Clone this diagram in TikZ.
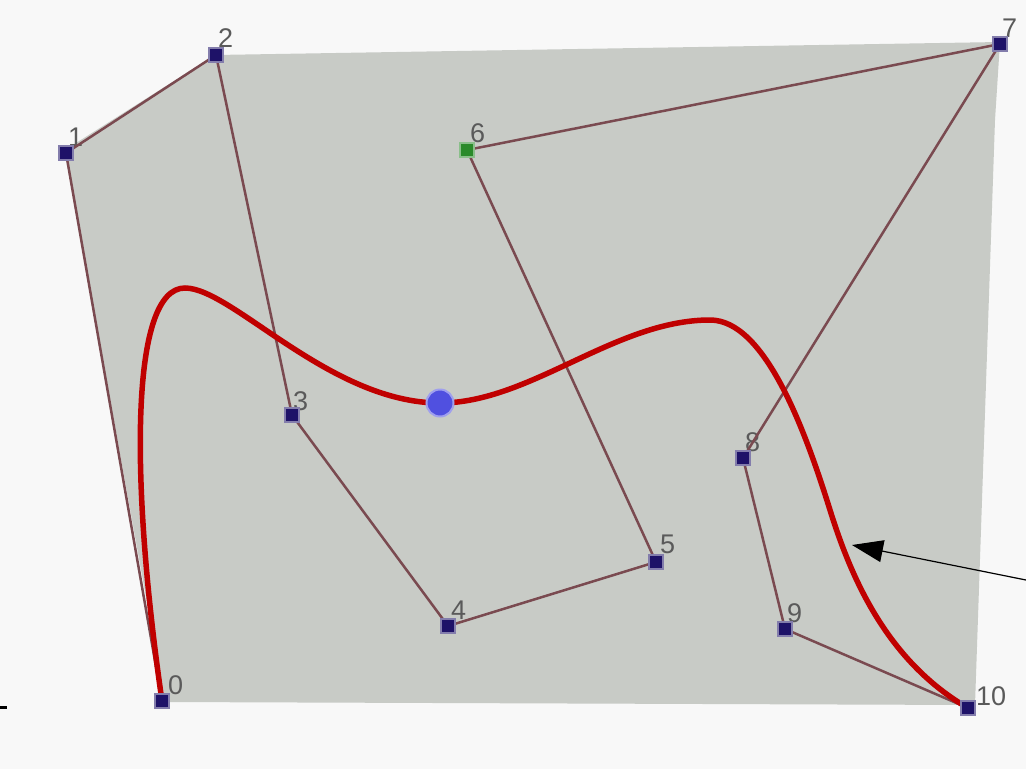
\documentclass[tikz,border=0pt]{standalone}
\usepackage{fontspec}
\setmainfont{Liberation Sans}
\usetikzlibrary{arrows.meta}
\definecolor{canvas}{HTML}{F8F8F8}
\definecolor{panel}{HTML}{C8CBC6}
\definecolor{poly}{HTML}{7A4A50}
\definecolor{mark}{HTML}{1E1268}
\definecolor{greenmark}{HTML}{2A8A2A}
\definecolor{curve}{HTML}{C00000}
\definecolor{knot}{HTML}{5050E0}
\definecolor{lab}{HTML}{5A5A5A}
\tikzset{
  cp/.style={fill=mark, draw=mark!55!white, line width=1.2pt, minimum size=14pt, inner sep=0pt, shape=rectangle},
  cpg/.style={cp, fill=greenmark, draw=greenmark!55!white},
  lbl/.style={text=lab, font=\fontsize{27}{27}\selectfont, inner sep=0pt, anchor=base west},
  polyline/.style={draw=poly, line width=2.5pt},
}
\begin{document}
\begin{tikzpicture}[x=1pt,y=-1pt]
\useasboundingbox (0,0) rectangle (1026,769);
\fill[canvas] (0,0) rectangle (1026,769);
\fill[panel] (65,150) -- (215,55) -- (1000,42) -- (995,120) -- (975,705) -- (165,702) -- cycle;
\draw[black, line width=3pt] (0,707.5) -- (7,707.5);
% control points
\coordinate (p0) at (162,701);
\coordinate (p1) at (66,153);
\coordinate (p2) at (216,55);
\coordinate (p3) at (292,415);
\coordinate (p4) at (448,626);
\coordinate (p5) at (656,562);
\coordinate (p6) at (467,150);
\coordinate (p7) at (1000,44);
\coordinate (p8) at (743,458);
\coordinate (p9) at (785,629);
\coordinate (p10) at (968,708);
% labels (drawn below the markers)
\node[lbl] (l0) at (168,694) {0};
\node[lbl] (l1) at (68,146) {1};
\node[lbl] (l2) at (218,47) {2};
\node[lbl] (l3) at (293,410) {3};
\node[lbl] (l4) at (451,619) {4};
\node[lbl] (l5) at (660,553) {5};
\node[lbl] (l6) at (470,142) {6};
\node[lbl] (l7) at (1002,37) {7};
\node[lbl] (l8) at (745,451) {8};
\node[lbl] (l9) at (787,622) {9};
\node[lbl] (l10) at (976,705) {10};
\draw[polyline] (p0) -- (p1) -- (p2) -- (p3) -- (p4) -- (p5) -- (p6) -- (p7) -- (p8) -- (p9) -- (p10);
% curve
\draw[curve, line width=5.5pt, line cap=round]
  (p0) .. controls (130,480) and (130,288) .. (185,288)
       .. controls (232,288) and (330,403) .. (440,403)
       .. controls (530,403) and (615,320) .. (710,320)
       .. controls (765,320) and (805,430) .. (830,510)
       .. controls (850,574) and (885,660) .. (p10);
\node[circle, fill=knot, draw=knot!55!white, line width=2pt, minimum size=27pt, inner sep=0pt] (k) at (440,403) {};
% markers
\foreach \i in {0,1,2,3,4,5,7,8,9,10} { \node[cp] (m\i) at (p\i) {}; }
\node[cpg] (m6) at (p6) {};
% arrow
\coordinate (a0) at (1026,580);
\coordinate (a1) at (852,545);
\draw[black, line width=1.2pt, -{Triangle[length=31pt, width=22pt]}] (a0) -- (a1);
\end{tikzpicture}
\end{document}
